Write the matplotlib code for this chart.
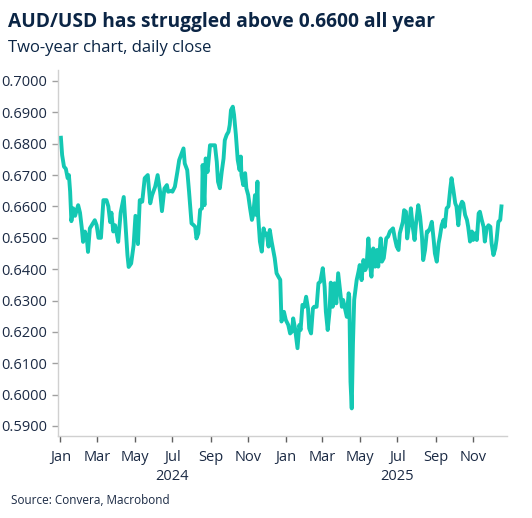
import numpy as np
import pandas as pd
import matplotlib
matplotlib.use("Agg")
import matplotlib.pyplot as plt
import matplotlib.dates as mdates
import matplotlib.transforms as mtransforms

# ---- data ----
start_date = "2024-01-01"
days_since_start = [
    1, 3, 6, 9, 12, 14, 16, 18, 21, 24, 29, 32, 35, 37, 40, 43, 45, 48, 51, 56,
    59, 62, 66, 70, 75, 78, 81, 83, 86, 89, 91, 94, 98, 103, 106, 109, 111, 115, 119, 122,
    126, 129, 133, 137, 142, 146, 149, 154, 158, 162, 165, 169, 173, 175, 181, 182, 186, 190, 193, 197,
    200, 202, 206, 209, 213, 216, 219, 221, 224, 227, 230, 231, 234, 236, 239, 243, 247, 251, 254, 256,
    259, 262, 265, 267, 270, 273, 275, 277, 280, 282, 285, 288, 291, 293, 294, 297, 300, 302, 305, 308,
    311, 313, 316, 318, 320, 321, 324, 327, 330, 332, 335, 338, 340, 343, 346, 348, 351, 354, 357, 359,
    363, 366, 370, 373, 376, 378, 381, 385, 388, 390, 393, 396, 399, 402, 404, 407, 410, 412, 416, 419,
    422, 426, 429, 431, 434, 437, 439, 442, 445, 448, 451, 454, 457, 459, 462, 465, 468, 469, 471, 473,
    475, 477, 481, 484, 486, 489, 492, 495, 497, 500, 503, 505, 508, 511, 514, 516, 520, 522, 525, 529,
    532, 535, 540, 543, 546, 549, 551, 556, 558, 561, 563, 567, 569, 572, 575, 577, 581, 584, 587, 589,
    592, 595, 597, 600, 603, 606, 608, 611, 614, 616, 619, 622, 624, 627, 630, 633, 635, 638, 641, 643,
    646, 649, 652, 654, 657, 660, 662, 665, 668, 670, 673, 676, 679, 681, 684, 687, 689, 692, 695, 698,
    700, 703, 706, 708, 711, 714, 716,
]
audusd_close = [
    0.6819, 0.6764, 0.6727, 0.6720, 0.6690, 0.6700, 0.6647, 0.6553, 0.6594, 0.6570, 0.6604, 0.6580, 0.6530, 0.6487, 0.6520, 0.6500, 0.6455, 0.6530, 0.6540, 0.6556,
    0.6540, 0.6500, 0.6500, 0.6620, 0.6620, 0.6600, 0.6550, 0.6580, 0.6520, 0.6540, 0.6520, 0.6487, 0.6580, 0.6630, 0.6540, 0.6445, 0.6407, 0.6418, 0.6476, 0.6570,
    0.6480, 0.6620, 0.6615, 0.6690, 0.6700, 0.6610, 0.6636, 0.6663, 0.6700, 0.6647, 0.6585, 0.6657, 0.6668, 0.6647, 0.6650, 0.6647, 0.6663, 0.6710, 0.6748, 0.6769,
    0.6785, 0.6737, 0.6716, 0.6647, 0.6546, 0.6541, 0.6535, 0.6498, 0.6514, 0.6589, 0.6594, 0.6732, 0.6604, 0.6753, 0.6710, 0.6795, 0.6795, 0.6795, 0.6742, 0.6679,
    0.6658, 0.6710, 0.6753, 0.6811, 0.6828, 0.6838, 0.6860, 0.6907, 0.6918, 0.6892, 0.6828, 0.6748, 0.6716, 0.6759, 0.6700, 0.6668, 0.6706, 0.6658, 0.6636, 0.6594,
    0.6557, 0.6573, 0.6636, 0.6573, 0.6679, 0.6573, 0.6488, 0.6456, 0.6530, 0.6509, 0.6514, 0.6472, 0.6525, 0.6488, 0.6456, 0.6435, 0.6387, 0.6376, 0.6366, 0.6233,
    0.6264, 0.6238, 0.6222, 0.6195, 0.6201, 0.6243, 0.6211, 0.6148, 0.6222, 0.6206, 0.6286, 0.6280, 0.6312, 0.6275, 0.6211, 0.6195, 0.6275, 0.6280, 0.6280, 0.6355,
    0.6360, 0.6403, 0.6344, 0.6265, 0.6206, 0.6265, 0.6357, 0.6280, 0.6355, 0.6291, 0.6387, 0.6334, 0.6280, 0.6302, 0.6275, 0.6248, 0.6323, 0.6312, 0.6041, 0.5956,
    0.6163, 0.6302, 0.6365, 0.6392, 0.6413, 0.6365, 0.6429, 0.6397, 0.6408, 0.6498, 0.6408, 0.6376, 0.6466, 0.6408, 0.6461, 0.6408, 0.6498, 0.6424, 0.6435, 0.6498,
    0.6504, 0.6520, 0.6530, 0.6498, 0.6472, 0.6461, 0.6514, 0.6551, 0.6588, 0.6583, 0.6498, 0.6557, 0.6594, 0.6535, 0.6493, 0.6540, 0.6604, 0.6567, 0.6503, 0.6429,
    0.6461, 0.6520, 0.6520, 0.6530, 0.6551, 0.6493, 0.6450, 0.6424, 0.6482, 0.6503, 0.6540, 0.6557, 0.6535, 0.6594, 0.6600, 0.6658, 0.6690, 0.6652, 0.6610, 0.6600,
    0.6540, 0.6600, 0.6615, 0.6610, 0.6573, 0.6557, 0.6535, 0.6488, 0.6520, 0.6493, 0.6514, 0.6493, 0.6578, 0.6583, 0.6557, 0.6535, 0.6488, 0.6530, 0.6540, 0.6535,
    0.6482, 0.6445, 0.6466, 0.6493, 0.6551, 0.6557, 0.6600,
]
y_ticks = [0.59, 0.60, 0.61, 0.62, 0.63, 0.64, 0.65, 0.66, 0.67, 0.68, 0.69, 0.70]
month_ticks = ["2024-01-01", "2024-03-01", "2024-05-01", "2024-07-01", "2024-09-01", "2024-11-01",
               "2025-01-01", "2025-03-01", "2025-05-01", "2025-07-01", "2025-09-01", "2025-11-01"]
month_labels = ["Jan", "Mar", "May", "Jul", "Sep", "Nov", "Jan", "Mar", "May", "Jul", "Sep", "Nov"]
year_labels = ["2024", "2025"]
year_label_pos = ["2024-07-01", "2025-07-01"]

title = "AUD/USD has struggled above 0.6600 all year"
subtitle = "Two-year chart, daily close"
source = "Source: Convera, Macrobond"

# ---- figure ----
NAVY = "#0b2545"
TEXT = "#1b2a44"
LINE = "#14c8b3"
AXC = "#d0d0d0"

plt.rcParams['font.family'] = ['Open Sans', 'DejaVu Sans']

fig = plt.figure(figsize=(5.32, 5.18), dpi=100)
ax = fig.add_axes([58 / 532, 1 - 436 / 518, (507 - 58) / 532, (436 - 70) / 518])

dates = pd.to_datetime(start_date) + pd.to_timedelta(days_since_start, unit="D")
ax.plot(dates, audusd_close, color=LINE, lw=2.8, solid_joinstyle="round")

ax.set_ylim(0.5868, 0.7035)
ax.set_xlim(pd.to_datetime(start_date) - pd.Timedelta(days=3.7),
            pd.to_datetime(start_date) + pd.Timedelta(days=725))
ax.set_yticks(y_ticks)
ax.set_yticklabels([f"{v:.4f}" for v in y_ticks])
ax.set_xticks(pd.to_datetime(month_ticks))
ax.set_xticklabels(month_labels)

for s in ["top", "right"]:
    ax.spines[s].set_visible(False)
for s in ["left", "bottom"]:
    ax.spines[s].set_color(AXC)
    ax.spines[s].set_linewidth(1.0)

ax.tick_params(axis="y", length=4, width=1, color="#a0a0a0", labelsize=10.5, labelcolor=TEXT, pad=4)
ax.tick_params(axis="x", length=4, width=1, color="#606060", labelsize=10.5, labelcolor=TEXT, pad=6)

trans = mtransforms.blended_transform_factory(ax.transData, fig.transFigure)
for lbl, pos in zip(year_labels, year_label_pos):
    ax.text(pd.to_datetime(pos), 1 - 477 / 518, lbl, transform=trans, ha="center", va="center",
            fontsize=10.5, color=TEXT)

fig.text(8 / 532, 1 - 22 / 518, title, fontsize=13.8, fontweight="bold", color=NAVY, va="center", ha="left")
fig.text(8 / 532, 1 - 48 / 518, subtitle, fontsize=12, color=NAVY, va="center", ha="left")
fig.text(11 / 532, 1 - 500 / 518, source, fontsize=8.5, color=TEXT, va="center", ha="left")

fig.savefig("out.png", dpi=100)
